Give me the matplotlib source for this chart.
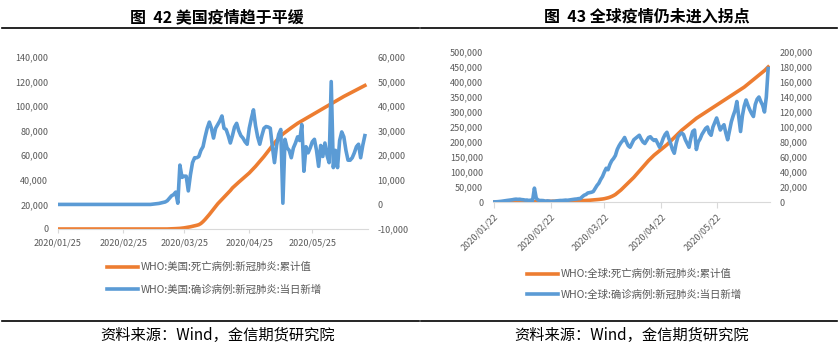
import matplotlib
matplotlib.use("Agg")
import matplotlib.pyplot as plt
import matplotlib.dates as mdates
from matplotlib.lines import Line2D
from matplotlib.ticker import FuncFormatter
import numpy as np
import pandas as pd

plt.rcParams['font.family'] = ['Noto Sans CJK SC', 'DejaVu Sans']

# ---- US (thousands), daily from 2020/01/25 to 2020/06/19 ----
us_dates = pd.date_range("2020-01-25", "2020-06-19")
us_new = [0.0] * 45 + [
    0.1, 0.2, 0.3, 0.4, 0.6, 0.8, 1.0, 1.5, 2.5, 3.5,
    4.0, 5.0, 0.5, 16.0, 11.0, 11.5, 11.5, 5.5, 12.0, 17.0,
    19.0, 19.0, 19.5, 22.0, 23.5, 27.5, 31.0, 33.5, 31.0, 27.0,
    31.0, 32.5, 34.0, 36.0, 31.0, 30.5, 28.0, 25.0, 28.0, 31.5,
    33.0, 30.0, 28.0, 27.0, 25.5, 24.5, 31.0, 35.0, 38.5, 32.0,
    27.5, 24.5, 28.0, 31.0, 31.7, 31.5, 31.0, 23.5, 17.0, 24.0,
    28.5, 30.5, 0.5, 26.5, 23.0, 22.0, 19.0, 23.0, 25.0, 27.5,
    26.0, 32.5, 13.5, 23.5, 21.0, 23.0, 25.5, 26.5, 22.0, 15.5,
    24.0, 19.5, 25.0, 20.0, 17.0, 50.0, 15.0, 22.0, 15.0, 26.0,
    29.5, 27.5, 22.0, 18.0, 18.0, 19.0, 21.0, 23.5, 24.5, 19.0,
    24.0, 28.0,
]
us_deaths = [0.0] * 53 + [
    0.1, 0.15, 0.2, 0.3, 0.4, 0.5, 0.7, 0.9, 1.2, 1.5,
    1.8, 2.2, 2.6, 3.0, 3.5, 4.5, 6.0, 7.8, 9.8, 11.8,
    14.0, 16.2, 18.5, 20.5, 22.3, 24.1, 25.9, 27.7, 29.5, 31.3,
    33.4, 35.0, 36.6, 38.1, 39.6, 41.1, 42.6, 44.1, 45.6, 47.4,
    49.2, 51.0, 53.0, 55.0, 57.0, 59.0, 61.2, 63.4, 65.6, 67.8,
    70.0, 72.0, 74.0, 75.8, 77.3, 78.6, 79.9, 81.2, 82.4, 83.6,
    84.8, 86.0, 87.0, 88.0, 89.0, 90.0, 91.0, 92.0, 93.0, 94.0,
    95.0, 96.0, 97.0, 98.0, 99.0, 100.0, 101.0, 102.0, 103.0, 104.0,
    105.0, 106.0, 107.0, 107.9, 108.8, 109.7, 110.6, 111.5, 112.4, 113.3,
    114.2, 115.1, 116.0, 116.8,
]
us_ticks = ["2020-01-25", "2020-02-25", "2020-03-25", "2020-04-25", "2020-05-25"]

# ---- Global (thousands), daily from 2020/01/22 to 2020/06/19 ----
gl_dates = pd.date_range("2020-01-22", "2020-06-19")
gl_new = [
    0.1, 0.2, 0.4, 0.6, 0.9, 1.3, 1.7, 2.0, 2.3, 2.6,
    3.0, 3.5, 3.8, 3.5, 3.7, 3.2, 3.0, 2.5, 2.6, 2.0,
    2.5, 2.0, 18.5, 5.0, 2.6, 2.0, 2.0, 1.8, 1.0, 1.5,
    1.2, 0.6, 1.0, 1.0, 1.5, 1.8, 2.0, 2.0, 2.2, 2.5,
    2.3, 2.7, 3.0, 3.5, 3.8, 4.0, 4.5, 4.5, 7.0, 9.0,
    10.0, 12.0, 12.5, 13.0, 14.0, 18.0, 22.0, 25.0, 30.0, 34.0,
    40.0, 45.0, 43.0, 50.0, 55.0, 58.0, 62.0, 70.0, 75.0, 79.0,
    82.0, 86.0, 80.0, 75.0, 73.0, 78.0, 83.0, 85.0, 87.0, 89.0,
    84.0, 80.0, 78.0, 82.0, 86.0, 87.0, 84.0, 82.0, 83.0, 78.0,
    73.0, 78.0, 85.0, 90.0, 93.0, 85.0, 78.0, 70.0, 65.0, 78.0,
    87.0, 90.0, 92.0, 90.0, 83.0, 78.0, 73.0, 85.0, 94.0, 96.0,
    70.0, 80.0, 84.0, 90.0, 94.0, 98.0, 100.0, 92.0, 89.0, 100.0,
    106.0, 112.0, 104.0, 96.0, 100.0, 103.0, 92.0, 83.0, 95.0, 107.0,
    115.0, 122.0, 134.0, 114.0, 94.0, 115.0, 128.0, 136.0, 129.0, 123.0,
    118.0, 114.0, 130.0, 137.0, 140.0, 134.0, 129.0, 120.0, 140.0, 178.0,
]
gl_deaths = [
    0.02, 0.03, 0.03, 0.04, 0.06, 0.08, 0.1, 0.13, 0.17, 0.21,
    0.26, 0.3, 0.36, 0.43, 0.5, 0.57, 0.64, 0.72, 0.81, 0.91,
    1.0, 1.1, 1.4, 1.5, 1.6, 1.7, 1.8, 1.9, 2.0, 2.1,
    2.25, 2.36, 2.46, 2.62, 2.7, 2.8, 2.86, 2.92, 2.99, 3.08,
    3.16, 3.25, 3.35, 3.45, 3.56, 3.7, 3.9, 4.1, 4.4, 4.7,
    5.0, 5.4, 5.8, 6.3, 6.8, 7.3, 7.9, 8.5, 9.2, 10.0,
    11, 12.5, 14, 16, 18.5, 21.5, 25, 30, 35, 40,
    46, 52, 58, 64, 70, 76, 82, 89, 96, 103,
    110, 117, 124, 131, 138, 144, 150, 156, 161, 166,
    171, 176, 181, 186, 191, 197, 203, 209, 215, 221,
    227, 233, 239, 244, 249, 254, 259, 264, 269, 274,
    279, 283, 287, 291, 295, 299, 303, 307, 311, 315,
    319, 323, 327, 331, 335, 339, 343, 347, 351, 355,
    359, 363, 367, 371, 375, 379, 383, 388, 393, 398,
    403, 408, 413, 418, 423, 428, 433, 438, 444, 450,
]
gl_ticks = ["2020-01-22", "2020-02-22", "2020-03-22", "2020-04-22", "2020-05-22"]

us_labels = ["WHO:美国:死亡病例:新冠肺炎:累计值", "WHO:美国:确诊病例:新冠肺炎:当日新增"]
gl_labels = ["WHO:全球:死亡病例:新冠肺炎:累计值", "WHO:全球:确诊病例:新冠肺炎:当日新增"]
titles = ["图  42 美国疫情趋于平缓", "图  43 全球疫情仍未进入拐点"]
source = "资料来源：Wind，金信期货研究院"

ORANGE = "#ED7D31"
BLUE = "#5B9BD5"
GREY = "#595959"
W, H = 839, 360

fmt = FuncFormatter(lambda v, p: f"{v:,.0f}")


def fx(px):
    return px / W


def fy(py):
    return 1 - py / H


def style(ax, twin):
    for s in ["top", "left", "right"]:
        ax.spines[s].set_visible(False)
        twin.spines[s].set_visible(False)
    ax.spines["bottom"].set_color("#d9d9d9")
    twin.spines["bottom"].set_visible(False)
    ax.tick_params(axis="y", length=0, pad=7, labelsize=6.5, labelcolor=GREY)
    twin.tick_params(axis="y", length=0, pad=7, labelsize=6.5, labelcolor=GREY)
    ax.tick_params(axis="x", length=3, color="#d9d9d9", labelsize=6.5, labelcolor=GREY)
    ax.yaxis.set_major_formatter(fmt)
    twin.yaxis.set_major_formatter(fmt)
    ax.patch.set_visible(False)


fig = plt.figure(figsize=(W / 100, H / 100), dpi=100)

# ---------------- left chart ----------------
ax1 = fig.add_axes([fx(58), fy(229), fx(368 - 58), (229 - 57) / H])
ax2 = ax1.twinx()
l1, = ax1.plot(us_dates, np.array(us_deaths) * 1000, color=ORANGE, lw=2.6)
l2, = ax2.plot(us_dates, np.array(us_new) * 1000, color=BLUE, lw=2.6)
ax1.set_ylim(0, 140000)
ax1.set_yticks(np.arange(0, 140001, 20000))
ax2.set_ylim(-10000, 60000)
ax2.set_yticks(np.arange(-10000, 60001, 10000))
ax1.set_xlim(mdates.date2num(us_dates[0]), mdates.date2num(us_dates[-1]) + 1.5)
ax1.set_xticks(pd.to_datetime(us_ticks))
ax1.xaxis.set_major_formatter(mdates.DateFormatter("%Y/%m/%d"))
style(ax1, ax2)
fig.legend([l1, l2], us_labels, loc="upper left", bbox_to_anchor=(fx(107), fy(262)),
           frameon=False, fontsize=7.5, handlelength=3, handletextpad=0.2,
           labelspacing=1.15, borderpad=0, borderaxespad=0, labelcolor=GREY)

# ---------------- right chart ----------------
ax3 = fig.add_axes([fx(493), fy(202), fx(770 - 493), (202 - 52) / H])
ax4 = ax3.twinx()
l3, = ax3.plot(gl_dates, np.array(gl_deaths) * 1000, color=ORANGE, lw=2.6)
l4, = ax4.plot(gl_dates, np.array(gl_new) * 1000, color=BLUE, lw=2.6)
ax3.set_ylim(0, 500000)
ax3.set_yticks(np.arange(0, 500001, 50000))
ax4.set_ylim(0, 200000)
ax4.set_yticks(np.arange(0, 200001, 20000))
ax3.set_xlim(mdates.date2num(gl_dates[0]) - 0.5, mdates.date2num(gl_dates[-1]) + 1)
ax3.set_xticks(pd.to_datetime(gl_ticks))
ax3.xaxis.set_major_formatter(mdates.DateFormatter("%Y/%m/%d"))
style(ax3, ax4)
ax3.tick_params(axis="x", length=4)
for lab in ax3.get_xticklabels():
    lab.set_rotation(45)
    lab.set_ha("right")
    lab.set_rotation_mode("anchor")
fig.legend([l3, l4], gl_labels, loc="upper left", bbox_to_anchor=(fx(527), fy(269)),
           frameon=False, fontsize=7.5, handlelength=3, handletextpad=0.2,
           labelspacing=1.0, borderpad=0, borderaxespad=0, labelcolor=GREY)

# ---------------- titles, rules, source ----------------
fig.text(fx(217), fy(17), titles[0], ha="center", va="center", fontsize=11.5, fontweight="bold")
fig.text(fx(647), fy(17), titles[1], ha="center", va="center", fontsize=11.5, fontweight="bold")
for x0, x1 in [(2, 419), (421, 837)]:
    fig.add_artist(Line2D([fx(x0), fx(x1)], [fy(28), fy(28)], transform=fig.transFigure, color="black", lw=1.2))
    fig.add_artist(Line2D([fx(x0), fx(x1)], [fy(321), fy(321)], transform=fig.transFigure, color="black", lw=1.2))
fig.text(fx(218), fy(335), source, ha="center", va="center", fontsize=11)
fig.text(fx(632), fy(335), source, ha="center", va="center", fontsize=11)

fig.savefig("out.png", dpi=100, facecolor="white")
